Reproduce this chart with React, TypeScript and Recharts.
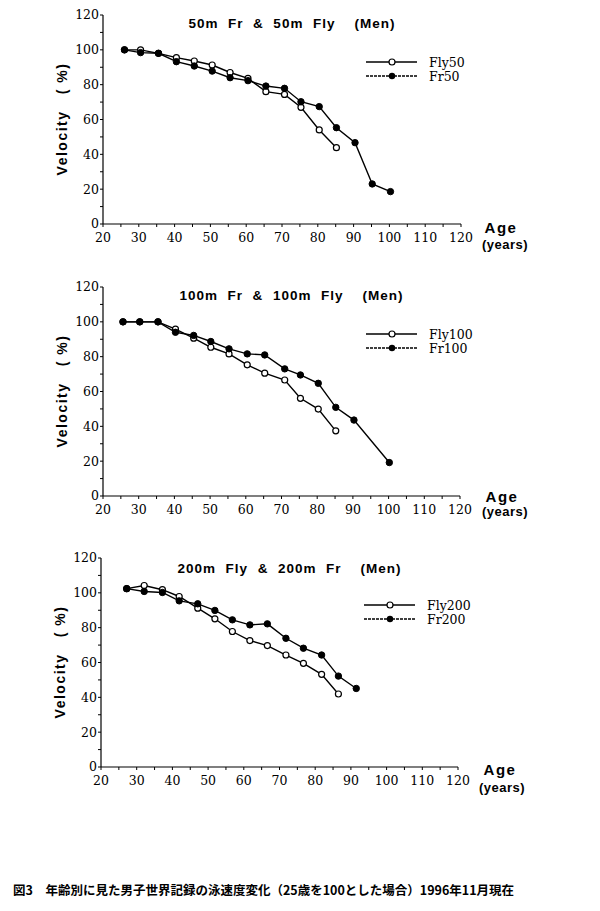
import { LineChart, Line, XAxis, YAxis } from 'recharts'

// ages (x positions) and velocity (% of age 25)
const ages50 = [26, 30.5, 35.5, 40.5, 45.5, 50.5, 55.5, 60.5, 65.5, 70.7, 75.3, 80.4, 85.2, 90.4, 95.2, 100.3]
const fly50 = [100, 100, 98, 95.5, 93.6, 91.3, 87, 83.6, 76, 74.4, 67, 54, 43.8]
const fr50 = [100, 98.4, 98, 93.2, 90.7, 87.8, 84, 82.3, 79.2, 77.9, 70.2, 67.4, 55.3, 46.7, 23, 18.6]

const ages100 = [25.6, 30.3, 35.4, 40.3, 45.4, 50.2, 55.3, 60.4, 65.3, 70.9, 75.3, 80.3, 85.2]
const fly100 = [100, 100, 100, 95.8, 90.6, 85.4, 81.6, 75.3, 70.5, 66.6, 56.1, 49.9, 37.4]
const agesFr100 = [25.6, 30.3, 35.4, 40.3, 45.4, 50.2, 55.3, 60.4, 65.3, 70.9, 75.3, 80.3, 85.2, 90.3, 100.2]
const fr100 = [100, 100, 100, 94, 92.2, 88.7, 84.5, 81.6, 81, 73, 69.5, 64.7, 50.9, 43.6, 19.2]

const ages200 = [27.2, 32.1, 37.2, 41.9, 47.1, 51.9, 56.8, 61.7, 66.6, 71.8, 76.7, 81.8, 86.5, 91.5]
const fly200 = [102.4, 104.2, 101.8, 97.9, 91.2, 85.1, 77.8, 72.6, 69.7, 64.3, 59.5, 53.2, 41.9]
const fr200 = [102.4, 100.8, 100.2, 95.4, 93.7, 89.9, 84.5, 81.6, 82.2, 73.9, 68.2, 64.3, 52.2, 45.1]

// minor ticks every 5 years, labels every 10
const xTicks = [20, 25, 30, 35, 40, 45, 50, 55, 60, 65, 70, 75, 80, 85, 90, 95, 100, 105, 110, 115, 120]
const yTicks = [0, 10, 20, 30, 40, 50, 60, 70, 80, 90, 100, 110, 120]

const caption = '図3　年齢別に見た男子世界記録の泳速度変化（25歳を100とした場合）1996年11月現在'

function toRows(ages: number[], values: number[]) {
  return values.map((v, i) => ({ age: ages[i], v }))
}

const tickStyle = { fontFamily: 'DejaVu Serif', fontSize: 12.5, fill: '#000' }
const boldSans = 'Liberation Sans, Arial, sans-serif'

interface ChartProps {
  top: number
  plotLeft: number
  plotRight: number
  title: string
  titleDy: number
  flyRows: { age: number; v: number }[]
  frRows: { age: number; v: number }[]
  flyName: string
  frName: string
  age: { x: number; y: number; yx: number; yy: number }
}

function AgeChart({ top, plotLeft, plotRight, title, titleDy, flyRows, frRows, flyName, frName, age }: ChartProps) {
  const plotTop = 15
  const lgX = plotLeft + 263
  return (
    <div style={{ position: 'absolute', top, left: 0, width: 600, height: 260 }}>
      <LineChart
        width={600}
        height={260}
        margin={{ top: plotTop, right: 600 - plotRight, left: plotLeft - 40, bottom: 6 }}
      >
        <XAxis
          dataKey="age"
          type="number"
          domain={[20, 120]}
          ticks={xTicks}
          interval={0}
          height={30}
          tick={tickStyle}
          tickSize={3}
          tickMargin={6}
          tickFormatter={(v: number) => (v % 10 === 0 ? String(v) : '')}
          axisLine={{ stroke: '#000', strokeWidth: 1.2 }}
          tickLine={{ stroke: '#000' }}
        />
        <YAxis
          type="number"
          domain={[0, 120]}
          ticks={yTicks}
          interval={0}
          width={40}
          tick={tickStyle}
          tickSize={3}
          tickMargin={1}
          tickFormatter={(v: number) => (v % 20 === 0 ? String(v) : '')}
          axisLine={{ stroke: '#000', strokeWidth: 1.2 }}
          tickLine={{ stroke: '#000' }}
        />
        <Line
          data={flyRows}
          dataKey="v"
          name={flyName}
          stroke="#000"
          strokeWidth={1.4}
          dot={{ r: 3, fill: '#fff', stroke: '#000', strokeWidth: 1.2 }}
          isAnimationActive={false}
        />
        <Line
          data={frRows}
          dataKey="v"
          name={frName}
          stroke="#000"
          strokeWidth={1.4}
          dot={{ r: 3.2, fill: '#000', stroke: '#000', strokeWidth: 1 }}
          isAnimationActive={false}
        />
      </LineChart>

      {/* title */}
      <div
        style={{
          position: 'absolute', left: 0, width: 2 * ((plotLeft + plotRight) / 2 + 10), top: plotTop + titleDy - 9,
          textAlign: 'center', font: `bold 13.5px ${boldSans}`, letterSpacing: 1, whiteSpace: 'pre',
        }}
      >
        {title}
      </div>

      {/* y axis label */}
      <div
        style={{
          position: 'absolute', left: plotLeft - 41 - 70, top: 120 - 9, width: 140, textAlign: 'center',
          transform: 'rotate(-90deg)', font: `bold 14px ${boldSans}`, letterSpacing: 1.5, whiteSpace: 'pre',
        }}
      >
        {'Velocity   ( %)'}
      </div>

      {/* x axis label */}
      <div style={{ position: 'absolute', left: age.x - 30, width: 60, top: age.y - 8.5, textAlign: 'center', font: `bold 15px ${boldSans}`, letterSpacing: 1.5, lineHeight: '17px' }}>
        Age
      </div>
      <div style={{ position: 'absolute', left: age.yx - 30, width: 60, top: age.yy - 7, textAlign: 'center', font: `bold 13px ${boldSans}`, letterSpacing: 0.5, lineHeight: '14px' }}>
        (years)
      </div>

      {/* legend */}
      <svg style={{ position: 'absolute', left: 0, top: 0 }} width={600} height={120}>
        <line x1={lgX} x2={lgX + 51} y1={62} y2={62} stroke="#000" strokeWidth={1.3} />
        <circle cx={lgX + 26} cy={62} r={3} fill="#fff" stroke="#000" strokeWidth={1.2} />
        <text x={lgX + 63} y={66.5} style={tickStyle}>{flyName}</text>
        <line x1={lgX} x2={lgX + 51} y1={76} y2={76} stroke="#000" strokeWidth={1.3} strokeDasharray="3 1" />
        <circle cx={lgX + 26} cy={76} r={3.2} fill="#000" />
        <text x={lgX + 63} y={80.5} style={tickStyle}>{frName}</text>
      </svg>
    </div>
  )
}

export default function App() {
  return (
    <div style={{ position: 'absolute', left: 0, top: 0, width: 600, height: 911, background: '#fff' }}>
      <AgeChart
        top={0}
        plotLeft={103}
        plotRight={461}
        title={'50m  Fr  &  50m  Fly    (Men)'}
        titleDy={10}
        flyRows={toRows(ages50, fly50)}
        frRows={toRows(ages50, fr50)}
        flyName="Fly50"
        frName="Fr50"
        age={{ x: 501, y: 227, yx: 505, yy: 245 }}
      />
      <AgeChart
        top={272}
        plotLeft={103}
        plotRight={460}
        title={'100m  Fr  &  100m  Fly    (Men)'}
        titleDy={10}
        flyRows={toRows(ages100, fly100)}
        frRows={toRows(agesFr100, fr100)}
        flyName="Fly100"
        frName="Fr100"
        age={{ x: 502, y: 224, yx: 505, yy: 240 }}
      />
      <AgeChart
        top={543}
        plotLeft={101}
        plotRight={458}
        title={'200m  Fly  &  200m  Fr    (Men)'}
        titleDy={12}
        flyRows={toRows(ages200, fly200)}
        frRows={toRows(ages200, fr200)}
        flyName="Fly200"
        frName="Fr200"
        age={{ x: 500, y: 226, yx: 502, yy: 245 }}
      />
      <div
        style={{
          position: 'absolute', left: 13, top: 880, whiteSpace: 'pre',
          font: 'bold 12.5px "Noto Sans CJK JP", sans-serif',
        }}
      >
        {caption}
      </div>
    </div>
  )
}
